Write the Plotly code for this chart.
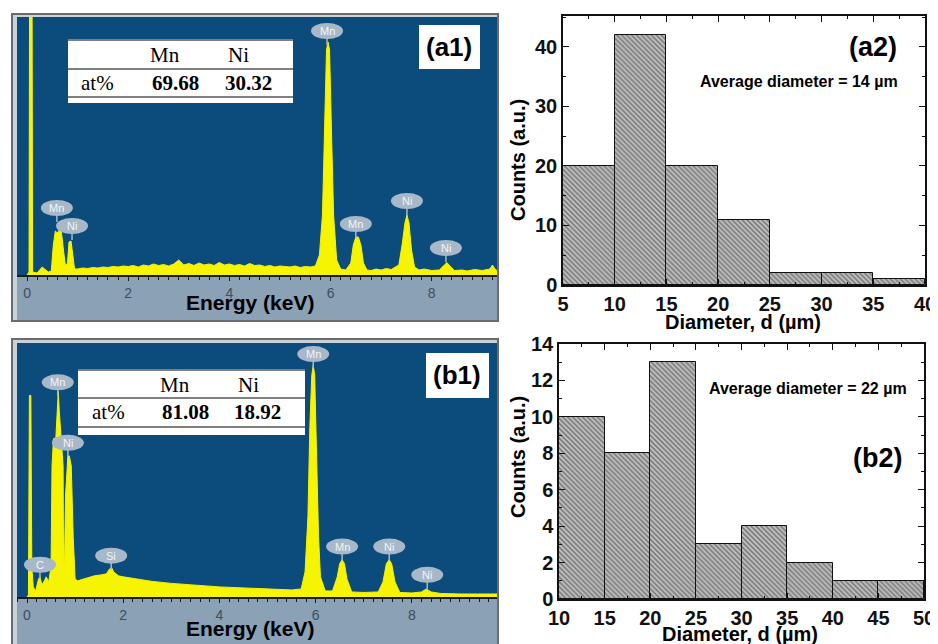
import plotly.graph_objects as go

# page body adds an 8px margin; figure is sized so that it fills the 938x644 window
OFF = 8
W, H = 938 - OFF, 644 - OFF

# ---------------- DATA ----------------
# EDS spectrum (a1): energy (keV) and counts (arb.)
a1_energy = [0.00, 0.04, 0.05, 0.10, 0.11, 0.20, 0.30, 0.35, 0.42, 0.48, 0.52, 0.56, 0.60, 0.64, 0.68,
             0.72, 0.76, 0.80, 0.83, 0.87, 0.90, 0.94,
             1.0, 1.1, 1.2, 1.3, 1.4, 1.5, 1.6, 1.7, 1.8, 1.9, 2.0, 2.1, 2.2, 2.3, 2.4, 2.5, 2.6, 2.7,
             2.8, 2.9, 3.0, 3.1, 3.2, 3.3, 3.4, 3.5, 3.6, 3.7, 3.8, 3.9, 4.0, 4.1, 4.2, 4.3, 4.4, 4.5,
             4.6, 4.7, 4.8, 4.9, 5.0, 5.1, 5.2, 5.3, 5.4, 5.5, 5.6, 5.7,
             5.78, 5.84, 5.88, 5.92, 5.95, 5.98, 6.02, 6.06, 6.12, 6.20, 6.30, 6.40, 6.45, 6.50, 6.55,
             6.60, 6.65, 6.72, 6.80, 6.90, 7.00, 7.10, 7.20, 7.35, 7.42, 7.47, 7.51, 7.55, 7.60, 7.66,
             7.75, 7.85, 8.00, 8.15, 8.25, 8.30, 8.36, 8.45, 8.60, 8.70, 8.85, 9.00, 9.15, 9.20, 9.25, 9.30]
a1_counts = [0, 30, 2700, 2700, 30, 20, 80, 60, 30, 40, 300, 440, 420, 450, 430,
             250, 90, 120, 330, 340, 200, 60,
             60, 70, 65, 75, 70, 80, 75, 85, 80, 90, 85, 95, 80, 100, 90, 110, 95, 105,
             90, 110, 150, 100, 115, 95, 120, 100, 110, 95, 125, 100, 110, 95, 105, 90, 115, 95,
             100, 85, 95, 80, 90, 85, 80, 90, 75, 85, 80, 90,
             200, 600, 1400, 2250, 2330, 2250, 1400, 600, 150, 60, 50, 120, 300, 380, 380,
             300, 120, 50, 45, 60, 50, 65, 55, 100, 320, 520, 600, 520, 250, 80,
             50, 60, 45, 50, 100, 125, 90, 45, 50, 40, 55, 45, 60, 100, 60, 40]

# EDS spectrum (b1)
b1_energy = [0.00, 0.03, 0.05, 0.08, 0.10, 0.13, 0.18, 0.24, 0.27, 0.31, 0.36, 0.40, 0.45,
             0.50, 0.52, 0.55, 0.60, 0.63, 0.65, 0.67, 0.72, 0.75, 0.76, 0.78, 0.80, 0.85, 0.88,
             0.92, 0.96, 1.00, 1.05, 1.2, 1.4, 1.55, 1.65, 1.72, 1.76, 1.80, 1.9, 2.0, 2.3, 2.6,
             3.0, 3.5, 4.0, 4.5, 5.0, 5.5, 5.7, 5.78, 5.84, 5.88, 5.92, 5.95, 5.98, 6.02, 6.06,
             6.10, 6.20, 6.35, 6.45, 6.50, 6.55, 6.60, 6.65, 6.75, 7.00, 7.30, 7.40, 7.47, 7.53,
             7.58, 7.65, 7.75, 8.00, 8.20, 8.30, 8.40, 8.60, 9.00, 9.50, 9.80]
b1_counts = [0, 20, 2000, 2000, 300, 100, 60, 180, 200, 120, 160, 200, 150,
             300, 1300, 1570, 1580, 1800, 2040, 1850, 1550, 1300, 340, 340, 1000, 1400, 1400,
             1300, 600, 180, 160, 180, 210, 220, 230, 280, 290, 250, 210, 200, 175, 155,
             135, 115, 100, 90, 80, 70, 80, 250, 800, 1700, 2200, 2300, 2200, 1500, 600,
             200, 60, 60, 200, 330, 370, 330, 180, 50, 45, 50, 150, 330, 370,
             330, 150, 45, 40, 50, 80, 50, 35, 30, 30, 30]

# peak labels: (element, energy keV, label height)
a1_labels = [("Mn", 0.59, 670), ("Ni", 0.89, 490), ("Mn", 5.93, 2440),
             ("Mn", 6.50, 510), ("Ni", 7.51, 740), ("Ni", 8.28, 270)]
b1_labels = [("C", 0.27, 320), ("Mn", 0.64, 2130), ("Ni", 0.85, 1530), ("Si", 1.75, 410),
             ("Mn", 5.95, 2410), ("Mn", 6.55, 500), ("Ni", 7.53, 500), ("Ni", 8.32, 220)]

a1_table = {"elements": ["Mn", "Ni"], "at": ["69.68", "30.32"]}
b1_table = {"elements": ["Mn", "Ni"], "at": ["81.08", "18.92"]}

# Histograms
a2_left = [5, 10, 15, 20, 25, 30, 35]
a2_counts = [20, 42, 20, 11, 2, 2, 1]
b2_left = [10, 15, 20, 25, 30, 35, 40, 45]
b2_counts = [10, 8, 13, 3, 4, 2, 1, 1]
bin_width = 5

# ---------------- HELPERS ----------------
def px(x):
    return (x - OFF) / W

def py(y):
    return 1 - (y - OFF) / H

SANS = "Liberation Sans"
SERIF = "Liberation Serif"
BLUE = "#0c4c7c"
STRIP = "#8aa1b6"
YELLOW = "#f6f400"
LABEL = "#a8b8c8"

fig = go.Figure()

# spectra
fig.add_trace(go.Scatter(x=a1_energy, y=a1_counts, mode="lines", fill="tozeroy",
                         line=dict(color=YELLOW, width=1), fillcolor=YELLOW,
                         xaxis="x", yaxis="y", showlegend=False, hoverinfo="skip"))
fig.add_trace(go.Scatter(x=b1_energy, y=b1_counts, mode="lines", fill="tozeroy",
                         line=dict(color=YELLOW, width=1), fillcolor=YELLOW,
                         xaxis="x3", yaxis="y3", showlegend=False, hoverinfo="skip"))

# histograms
pattern = dict(shape="\\", fgcolor="#333333", bgcolor="#c4c4c4", size=3.5, solidity=0.5)
fig.add_trace(go.Bar(x=[l + bin_width / 2 for l in a2_left], y=a2_counts, width=bin_width,
                     marker=dict(color="#c4c4c4", line=dict(color="#111", width=1), pattern=pattern),
                     xaxis="x2", yaxis="y2", showlegend=False))
fig.add_trace(go.Bar(x=[l + bin_width / 2 for l in b2_left], y=b2_counts, width=bin_width,
                     marker=dict(color="#c4c4c4", line=dict(color="#111", width=1), pattern=pattern),
                     xaxis="x4", yaxis="y4", showlegend=False))

shapes = []
annotations = []

def rect(x0, y0, x1, y1, fill, line=None, lw=0):
    shapes.append(dict(type="rect", xref="paper", yref="paper", x0=px(x0), x1=px(x1),
                       y0=py(y1), y1=py(y0), fillcolor=fill, layer="below",
                       line=dict(color=line or fill, width=lw)))

def hline(x0, x1, y, color="#555", w=1.5):
    shapes.append(dict(type="line", xref="paper", yref="paper", x0=px(x0), x1=px(x1),
                       y0=py(y), y1=py(y), line=dict(color=color, width=w), layer="above"))

def text(x, y, s, size, family=SANS, bold=False, color="black", angle=0):
    annotations.append(dict(x=px(x), y=py(y), xref="paper", yref="paper", text=s,
                            showarrow=False, xanchor="center", yanchor="middle", textangle=angle,
                            font=dict(family=family, size=size, color=color,
                                      weight="bold" if bold else "normal")))

# EDS panel frames
rect(12, 14, 498, 321, "#c9d1d9", "#6b6b6b", 2)
rect(17, 17, 497, 275, BLUE)
rect(17, 275, 497, 320, STRIP)
rect(12, 339, 498, 646, "#c9d1d9", "#6b6b6b", 2)
rect(17, 343, 497, 597, BLUE)
rect(17, 597, 497, 646, STRIP)

# peak labels
def peak_labels(labels, xr, yr):
    for el, e, yv in labels:
        shapes.append(dict(type="line", xref=xr, yref=yr, x0=e, x1=e, ysizemode="pixel",
                           yanchor=yv, y0=-7, y1=-14, line=dict(color=LABEL, width=1.5)))
        shapes.append(dict(type="circle", xref=xr, yref=yr, xsizemode="pixel", ysizemode="pixel",
                           xanchor=e, yanchor=yv, x0=-16, x1=16, y0=-8, y1=8,
                           fillcolor=LABEL, line=dict(width=0)))
        annotations.append(dict(x=e, y=yv, xref=xr, yref=yr, text=el, showarrow=False,
                                font=dict(family=SANS, size=11, color="#f2f5f8")))

peak_labels(a1_labels, "x", "y")
peak_labels(b1_labels, "x3", "y3")

# composition tables
def table(x0, y0, x1, y1, lines_y, col_x, row_y, at_x, tab):
    shapes.append(dict(type="rect", xref="paper", yref="paper", x0=px(x0), x1=px(x1),
                       y0=py(y1), y1=py(y0), fillcolor="white", line=dict(width=0), layer="above"))
    for ly in lines_y:
        hline(x0, x1, ly)
    for cx, el in zip(col_x, tab["elements"]):
        text(cx, row_y[0], el, 21, SERIF)
    text(at_x, row_y[1], "at%", 21, SERIF)
    for cx, v in zip(col_x, tab["at"]):
        text(cx + 10, row_y[1], v, 21, SERIF, bold=True)

table(68, 39, 293, 103, [40, 69, 97], [165, 238], [55, 83], 97, a1_table)
table(78, 369, 305, 435, [370, 398, 427], [175, 248], [385, 412], 108, b1_table)

# panel labels
shapes.append(dict(type="rect", xref="paper", yref="paper", x0=px(419), x1=px(480),
                   y0=py(69), y1=py(25), fillcolor="white", line=dict(width=0), layer="above"))
shapes.append(dict(type="rect", xref="paper", yref="paper", x0=px(426), x1=px(489),
                   y0=py(398), y1=py(353), fillcolor="white", line=dict(width=0), layer="above"))
text(449, 47, "(a1)", 26, bold=True)
text(457, 375, "(b1)", 26, bold=True)
text(873, 47, "(a2)", 27, bold=True)
text(878, 458, "(b2)", 27, bold=True)
text(799, 82, "Average diameter = 14 µm", 16, bold=True)
text(808, 388, "Average diameter = 22 µm", 16, bold=True)

# axis titles
text(250, 303, "Energy (keV)", 21, bold=True)
text(250, 628, "Energy (keV)", 21, bold=True)
text(743, 322, "Diameter, d (µm)", 20, bold=True)
text(740, 634, "Diameter, d (µm)", 20, bold=True)
text(518, 160, "Counts (a.u.)", 20, bold=True, angle=-90)
text(518, 457, "Counts (a.u.)", 20, bold=True, angle=-90)

# ---------------- AXES ----------------
spec_x = dict(showgrid=False, zeroline=False, showline=True, linecolor="#1a1a1a", linewidth=1.5,
              ticks="outside", ticklen=4, tickcolor="#1a1a1a", dtick=2, tick0=0, automargin=False,
              tickfont=dict(family=SANS, size=14, color="#3e4e5e"),
              minor=dict(dtick=0.2, ticks="outside", ticklen=3, tickcolor="#1a1a1a"))
spec_y = dict(visible=False, showgrid=False, zeroline=False, automargin=False)

hist_x = dict(showgrid=False, zeroline=False, showline=True, linecolor="#111", linewidth=1.5,
              mirror="allticks", ticks="inside", ticklen=6, tickcolor="#111", automargin=False,
              tickfont=dict(family=SANS, size=20, color="#111", weight="bold"))
hist_y = dict(hist_x)

fig.update_layout(
    width=W, height=H, autosize=False,
    margin=dict(l=0, r=0, t=0, b=0, pad=0, autoexpand=False),
    paper_bgcolor="white", plot_bgcolor="rgba(0,0,0,0)",
    bargap=0, showlegend=False,
    xaxis=dict(spec_x, domain=[px(17), px(497)], range=[-0.198, 9.29], anchor="y"),
    yaxis=dict(spec_y, domain=[py(275), py(17)], range=[0, 2580], anchor="x"),
    xaxis3=dict(spec_x, domain=[px(17), px(497)], range=[-0.208, 9.77], anchor="y3"),
    yaxis3=dict(spec_y, domain=[py(597), py(343)], range=[0, 2520], anchor="x3"),
    xaxis2=dict(hist_x, domain=[px(563), px(925)], range=[5, 40], dtick=5, tick0=5,
                minor=dict(ticks="inside", ticklen=3, tickcolor="#111", dtick=2.5),
                anchor="y2"),
    yaxis2=dict(hist_y, domain=[py(285), py(16)], range=[0, 45.2], dtick=10, tick0=0,
                minor=dict(ticks="inside", ticklen=3, tickcolor="#111", dtick=5),
                anchor="x2"),
    xaxis4=dict(hist_x, domain=[px(559), px(924)], range=[10, 50], dtick=5, tick0=10,
                minor=dict(ticks="inside", ticklen=3, tickcolor="#111", dtick=2.5),
                anchor="y4"),
    yaxis4=dict(hist_y, domain=[py(599), py(344)], range=[0, 14], dtick=2, tick0=0,
                minor=dict(ticks="inside", ticklen=3, tickcolor="#111", dtick=1),
                anchor="x4"),
    shapes=shapes,
    annotations=annotations,
)

fig.write_html("out.html")
